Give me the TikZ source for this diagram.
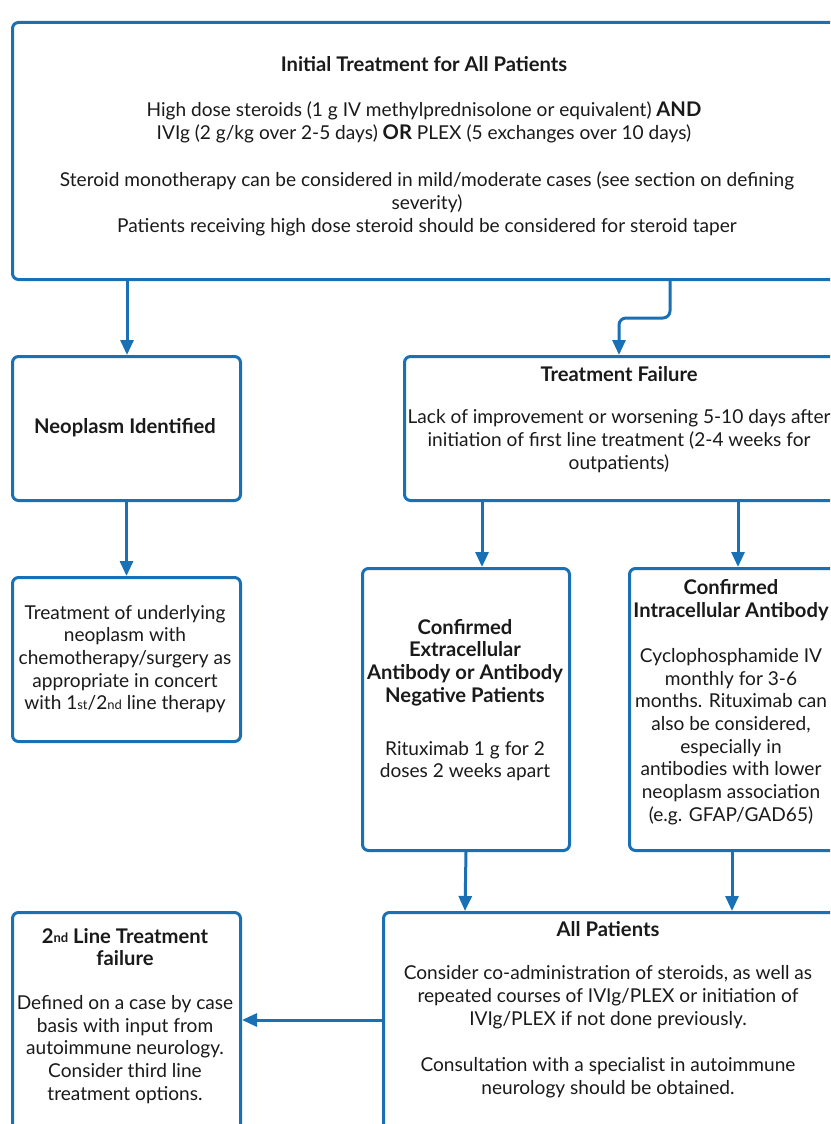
\documentclass[tikz,border=0pt]{standalone}
\usepackage{fontspec}
\setmainfont{Lato}
\usetikzlibrary{arrows.meta}
\definecolor{flowblue}{HTML}{1A70B5}
\definecolor{txt}{HTML}{1A1A1A}
\newcommand{\ordsuf}[1]{\raisebox{0.3pt}{\fontsize{13}{13}\selectfont #1}}
\tikzset{
  box/.style={draw=flowblue, line width=3pt, rounded corners=6pt, anchor=north west, inner sep=0pt, fill=white},
  lbl/.style={text=txt, align=center, inner sep=0pt, font=\fontsize{19.1}{22.7}\selectfont},
  ttl/.style={lbl, font=\fontsize{20.2}{22.7}\selectfont\bfseries},
  arr/.style={draw=flowblue, line width=3pt, -{Triangle[length=15pt,width=13pt]}}
}
\begin{document}
\begin{tikzpicture}[x=1pt,y=-1pt]
\useasboundingbox (0,0) rectangle (830,1124);
\clip (0,0) rectangle (830,1124);
\fill[white] (0,0) rectangle (830,1124);
% boxes
\node[box, minimum width=834pt, minimum height=257pt] (top) at (11,21) {};
\node[box, minimum width=228pt, minimum height=144pt] (neo) at (11,355) {};
\node[box, minimum width=442pt, minimum height=144pt] (tf) at (403,355) {};
\node[box, minimum width=228pt, minimum height=164pt] (treat) at (11,576) {};
\node[box, minimum width=207pt, minimum height=282pt] (extra) at (361,567) {};
\node[box, minimum width=217pt, minimum height=282pt] (intra) at (628,567) {};
\node[box, minimum width=228pt, minimum height=240pt] (second) at (11,911) {};
\node[box, minimum width=463pt, minimum height=240pt] (all) at (382,911) {};
% texts
\node[ttl] (toptitle) at (424,64) {Initial Treatment for All Patients};
\node[lbl] (topa) at (424,122) {High dose steroids (1 g IV methylprednisolone or equivalent) {\fontsize{20.2}{22.7}\selectfont\bfseries AND}\\IVIg (2 g/kg over 2-5 days) {\fontsize{20.2}{22.7}\selectfont\bfseries OR} PLEX (5 exchanges over 10 days)};
\node[lbl] (topb) at (427,204) {Steroid monotherapy can be considered in mild/moderate cases (see section on defining\\severity)\\Patients receiving high dose steroid should be considered for steroid taper};
\node[ttl] (neotxt) at (125,428) {Neoplasm Identified};
\node[ttl] (tftitle) at (619,374) {Treatment Failure};
\node[lbl] (tfbody) at (619,441) {Lack of improvement or worsening 5-10 days after\\initiation of first line treatment (2-4 weeks for\\outpatients)};
\node[lbl] (treattxt) at (125,659) {Treatment of underlying\\neoplasm with\\chemotherapy/surgery as\\appropriate in concert\\with 1\ordsuf{st}/2\ordsuf{nd} line therapy};
\node[ttl] (extitle) at (465,662.5) {Confirmed\\Extracellular\\Antibody or Antibody\\Negative Patients};
\node[lbl] (exbody) at (465,761) {Rituximab 1 g for 2\\doses 2 weeks apart};
\node[ttl] (intitle) at (731,600.5) {Confirmed\\Intracellular Antibody};
\node[lbl] (inbody) at (731,736.5) {Cyclophosphamide IV\\monthly for 3-6\\months. Rituximab can\\also be considered,\\especially in\\antibodies with lower\\neoplasm association\\(e.g. GFAP/GAD65)};
\node[ttl] (sectitle) at (125,947) {2\ordsuf{nd} Line Treatment\\failure};
\node[lbl] (secbody) at (125,1049.5) {Defined on a case by case\\basis with input from\\autoimmune neurology.\\Consider third line\\treatment options.};
\node[ttl] (alltitle) at (608,929) {All Patients};
\node[lbl] (allbodya) at (608,997) {Consider co-administration of steroids, as well as\\repeated courses of IVIg/PLEX or initiation of\\IVIg/PLEX if not done previously.};
\node[lbl] (allbodyb) at (608,1078) {Consultation with a specialist in autoimmune\\neurology should be obtained.};
% connectors
\coordinate (bend) at (670,318);
\coordinate (tfin) at (619,355);
\draw[arr] ([xshift=116pt]top.south west) -- ([xshift=116pt]neo.north west);
\draw[arr, rounded corners=7pt] (top.south -| bend) -- (bend) -| (tfin);
\draw[arr] (neo.south) -- (treat.north);
\draw[arr] ([xshift=79pt]tf.south west) -- ([xshift=121pt]extra.north west);
\draw[arr] ([xshift=335pt]tf.south west) -- ([xshift=110pt]intra.north west);
\draw[arr] (extra.south) -- ([xshift=83pt]all.north west);
\draw[arr] ([xshift=104pt]intra.south west) -- ([xshift=350pt]all.north west);
\draw[arr] ([yshift=-109pt]all.north west) -- ([yshift=-109pt]second.north east);
\end{tikzpicture}
\end{document}
